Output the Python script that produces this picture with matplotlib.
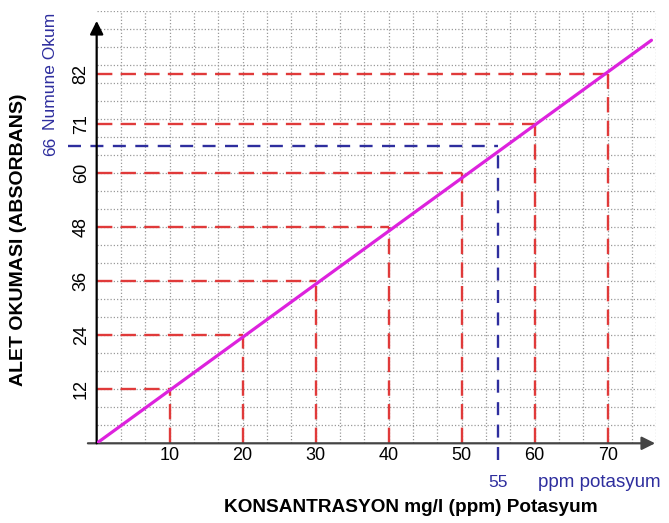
import numpy as np
import matplotlib
matplotlib.use("Agg")
import matplotlib.pyplot as plt

plt.rcParams["font.family"] = ["Liberation Sans", "DejaVu Sans"]

# readings: concentration (ppm) vs instrument reading
conc = [10, 20, 30, 40, 50, 60, 70]
absorb = [12, 24, 36, 48, 60, 71, 82]
absorb_labels = ["12", "24", "36", "48", "60", "71", "82"]

# calibration line ends
line_x = [0, 76]
line_y = [0, 89.5]

# sample reading
sample_conc = 55
sample_abs = 66

RED = "#e03a3a"
BLUE = "#2e2e9e"
MAG = "#dd22dd"

fig = plt.figure(figsize=(6.69, 5.23), dpi=100)
ax = fig.add_axes([0.1445, 0.1524, 0.8366, 0.8266])
ax.set_xlim(0, 76.67)
ax.set_ylim(0, 96)
for s in ax.spines.values():
    s.set_visible(False)

# dotted grid, 3 cells per labelled step
for gx in np.arange(1, 24) * 10 / 3:
    ax.plot([gx, gx], [0, 96], color="#9a9a9a", lw=0.9, ls=(0, (1, 1.6)), zorder=1)
for gy in np.arange(1, 25) * 4:
    ax.plot([0, 76.67], [gy, gy], color="#9a9a9a", lw=0.9, ls=(0, (1, 1.6)), zorder=1)

# red guide lines
for cx, ay in zip(conc, absorb):
    ax.plot([0, cx], [ay, ay], color=RED, lw=1.7, ls=(0, (6.5, 3.5)), zorder=2)
    ax.plot([cx, cx], [0, ay], color=RED, lw=1.7, ls=(0, (6.5, 3.5)), zorder=2)

# sample (blue)
ax.plot([-3.9, sample_conc], [sample_abs, sample_abs], color=BLUE, lw=1.7,
        ls=(0, (5.5, 4)), zorder=2, clip_on=False)
ax.plot([sample_conc, sample_conc], [-3.7, sample_abs], color=BLUE, lw=1.7,
        ls=(0, (5.5, 4)), zorder=2, clip_on=False)

ax.plot(line_x, line_y, color=MAG, lw=2.3, zorder=4, solid_capstyle="round")

# axes with arrows
ax.annotate("", xy=(76.5, 0), xytext=(-1.2, 0), annotation_clip=False,
            arrowprops=dict(arrowstyle="-|>", color="#444444", lw=1.6,
                            mutation_scale=20, shrinkA=0, shrinkB=0))
ax.annotate("", xy=(0, 93.8), xytext=(0, 0), annotation_clip=False,
            arrowprops=dict(arrowstyle="-|>", color="black", lw=1.6,
                            mutation_scale=20, shrinkA=0, shrinkB=0))

ax.set_xticks(conc)
ax.set_xticklabels([str(c) for c in conc], fontsize=13)
ax.set_yticks(absorb)
ax.set_yticklabels(absorb_labels, fontsize=13, rotation=90, va="center")
ax.tick_params(length=0)
ax.tick_params(axis="x", pad=3)
ax.tick_params(axis="y", pad=5)

ax.text(-6.3, sample_abs, "66", color=BLUE, fontsize=12.5, rotation=90,
        ha="center", va="center", clip_on=False)
ax.text(-6.3, 69.5, "Numune Okum", color=BLUE, fontsize=12.5, rotation=90,
        ha="center", va="bottom", clip_on=False)
ax.text(sample_conc, -8.6, "55", color=BLUE, fontsize=12.5,
        ha="center", va="center", clip_on=False)
ax.text(60.5, -8.6, "ppm potasyum", color=BLUE, fontsize=13.5,
        ha="left", va="center", clip_on=False)

fig.text(0.614, 0.029, "KONSANTRASYON mg/l (ppm) Potasyum", fontsize=13.7,
         fontweight="bold", ha="center", va="center")
fig.text(0.028, 0.541, "ALET OKUMASI (ABSORBANS)", fontsize=14,
         fontweight="bold", ha="center", va="center", rotation=90)

fig.savefig("out.png", dpi=100)
